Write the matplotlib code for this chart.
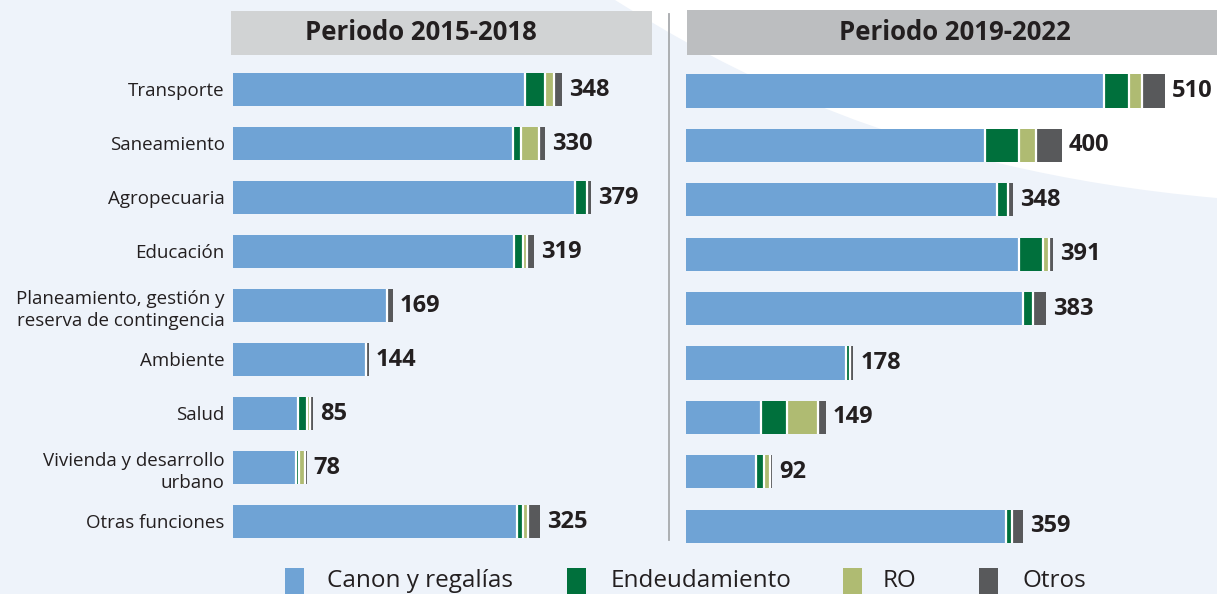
import matplotlib
matplotlib.use("Agg")
import matplotlib.pyplot as plt
from matplotlib.patches import Rectangle, PathPatch
from matplotlib.path import Path
import numpy as np

# ---------------- data ----------------
categories = ["Transporte", "Saneamiento", "Agropecuaria", "Educación",
              "Planeamiento, gestión y\nreserva de contingencia", "Ambiente",
              "Salud", "Vivienda y desarrollo\nurbano", "Otras funciones"]
series_names = ["Canon y regalías", "Endeudamiento", "RO", "Otros"]
periods = ["Periodo 2015-2018", "Periodo 2019-2022"]

canon_1518 = [309, 296, 362, 298, 163, 141, 69, 67, 301]
endeu_1518 = [21, 9, 13, 9, 0, 0, 9, 3, 6]
ro_1518 = [10, 19, 0, 4, 0, 0, 4, 6, 5]
otros_1518 = [8, 6, 4, 8, 6, 3, 3, 2, 13]
total_1518 = [348, 330, 379, 319, 169, 144, 85, 78, 325]

canon_1922 = [445, 318, 331, 354, 359, 170, 80, 75, 341]
endeu_1922 = [27, 37, 12, 26, 10, 5, 27, 8, 6]
ro_1922 = [13, 18, 0, 6, 0, 0, 34, 6, 0]
otros_1922 = [25, 27, 5, 5, 14, 3, 8, 3, 12]
total_1922 = [510, 400, 348, 391, 383, 178, 149, 92, 359]

colors = ["#6fa3d5", "#00703c", "#afbb72", "#58595b"]

# ---------------- figure ----------------
W, H = 1217, 594
FONT = "Open Sans"
TXT = "#231f20"
BG = "#eef3fa"
plt.rcParams["font.family"] = [FONT, "DejaVu Sans"]

fig = plt.figure(figsize=(W / 100, H / 100), dpi=100)
fig.patch.set_facecolor(BG)

# background decoration axes in pixel coordinates
bg = fig.add_axes([0, 0, 1, 1], zorder=-5)
bg.set_xlim(0, W)
bg.set_ylim(H, 0)
bg.axis("off")
bg.set_facecolor("none")
verts = [(615, 0), (720, 65), (900, 170), (1217, 198), (1217, 0), (615, 0)]
codes = [Path.MOVETO, Path.CURVE4, Path.CURVE4, Path.CURVE4, Path.LINETO, Path.CLOSEPOLY]
bg.add_patch(PathPatch(Path(verts, codes), facecolor="white", edgecolor="none"))
# headers
bg.add_patch(Rectangle((231, 11), 421, 44, facecolor="#d1d3d4", edgecolor="none"))
bg.add_patch(Rectangle((687, 10), 530, 45, facecolor="#bcbec0", edgecolor="none"))
bg.text(421, 33, periods[0], ha="center", va="center", fontsize=18.5,
        fontweight="bold", color=TXT)
bg.text(955, 33, periods[1], ha="center", va="center", fontsize=18.5,
        fontweight="bold", color=TXT)
bg.plot([669, 669], [14, 540], color="#a7a9ac", lw=1.3)

# legend (manual)
leg_sq_x = [285, 567, 843, 979]
leg_tx_x = [327, 611, 883, 1022]
for name, c, sx, tx in zip(series_names, colors, leg_sq_x, leg_tx_x):
    bg.add_patch(Rectangle((sx, 568), 19, 30, facecolor=c, edgecolor="none"))
    bg.text(tx, 581, name, ha="left", va="center", fontsize=17.5, color=TXT)


def draw_panel(ax, segs, totals, show_labels):
    y = np.arange(len(categories))
    h = 0.61
    left = np.zeros(len(categories))
    bounds = [[] for _ in categories]
    for vals, c in zip(segs, colors):
        vals = np.array(vals, dtype=float)
        ax.barh(y, vals, left=left, height=h, color=c, edgecolor="none")
        for i, v in enumerate(vals):
            if v > 0:
                bounds[i].append(left[i] + v)
        left = left + vals
    # white separators between segments
    for i, b in enumerate(bounds):
        for xb in b[:-1]:
            ax.vlines(xb, i - h / 2, i + h / 2, color="white", lw=1.6)
    for i, t in enumerate(totals):
        ax.annotate(str(t), (t, i), xytext=(7, 0), textcoords="offset pixels",
                    ha="left", va="center", fontsize=17, fontweight="bold",
                    color=TXT)
    ax.set_ylim(len(categories) - 0.5, -0.5)
    ax.set_yticks(y)
    if show_labels:
        ax.set_yticklabels(categories, fontsize=13.5, color=TXT, ha="right",
                           linespacing=1.3)
    else:
        ax.set_yticklabels([])
    ax.tick_params(axis="y", length=0, pad=6)
    ax.set_xticks([])
    for s in ax.spines.values():
        s.set_visible(False)
    ax.set_facecolor("none")


axL = fig.add_axes([233 / W, 1 - 548.5 / H, 425 / W, 486 / H])
axL.set_xlim(0, 450)
draw_panel(axL, [canon_1518, endeu_1518, ro_1518, otros_1518], total_1518, True)

axR = fig.add_axes([686 / W, 1 - 553.4 / H, 526 / W, 489.6 / H])
axR.set_xlim(0, 560)
draw_panel(axR, [canon_1922, endeu_1922, ro_1922, otros_1922], total_1922, False)

fig.savefig("out.png", dpi=100, facecolor=fig.get_facecolor())
